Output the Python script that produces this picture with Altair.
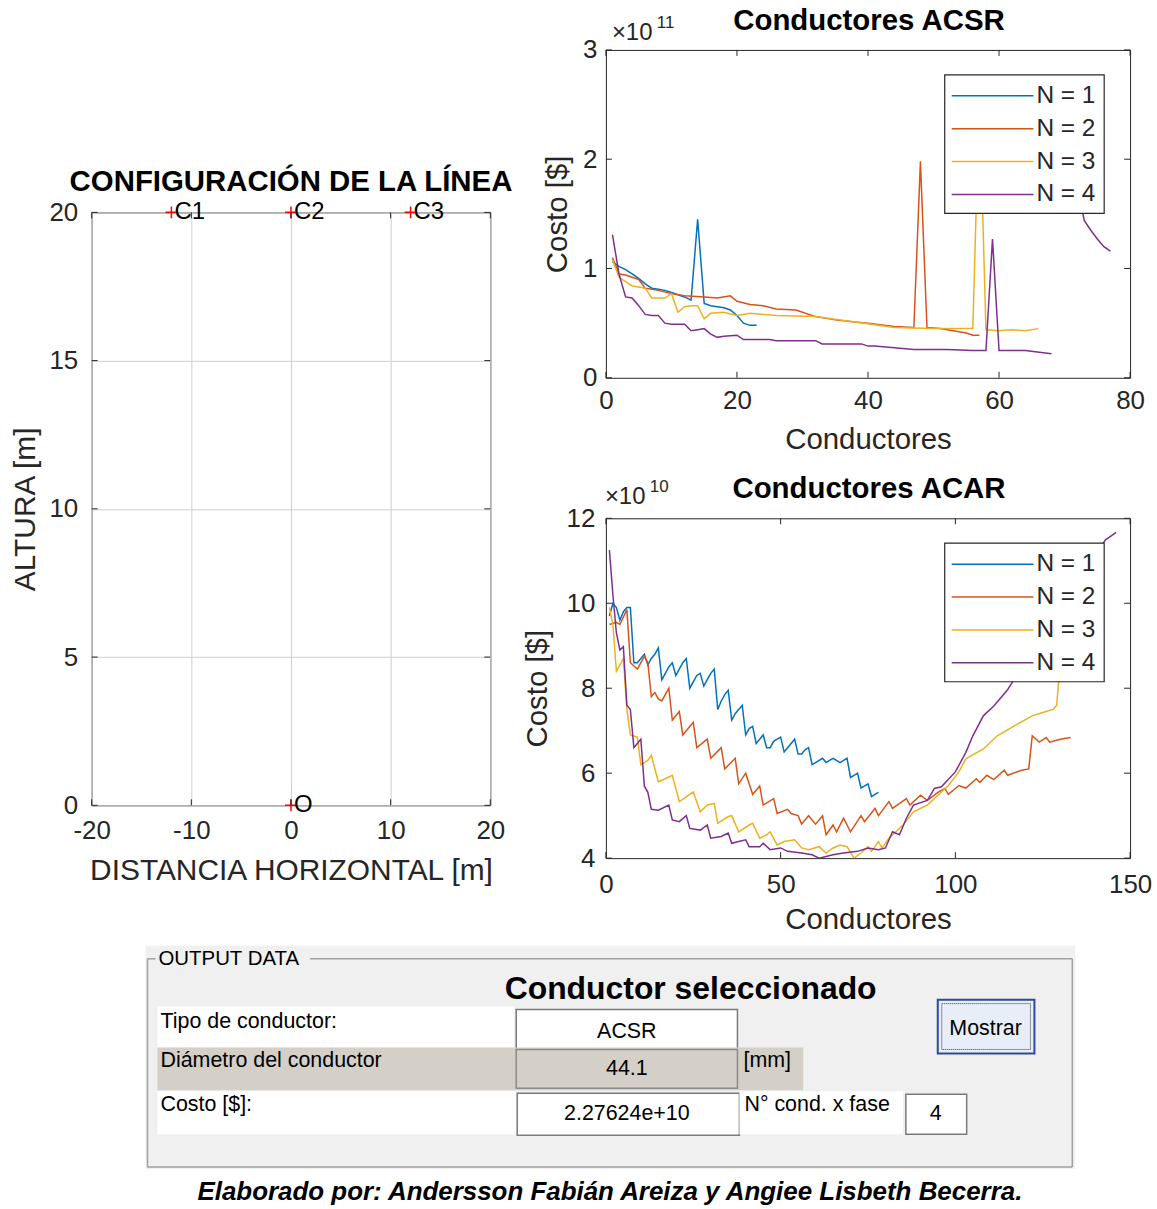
import altair as alt
import pandas as pd

FONT = "Liberation Sans"
AXC = "#262626"

# ---------------- data ----------------
series = ["N = 1", "N = 2", "N = 3", "N = 4"]
series_colors = ["#0072BD", "#D95319", "#EDB120", "#7E2F8E"]

# ACSR: cost in units of 1e11 $
acsr_n1_x = [1, 2, 3, 4, 5, 6, 7, 8, 9, 10, 11, 12, 13, 14, 15, 16, 17, 18, 19, 20, 21, 22, 23]
acsr_n1_y = [1.06, 1.02, 0.99, 0.95, 0.91, 0.86, 0.82, 0.81, 0.80, 0.78, 0.76, 0.74, 0.71, 1.45, 0.68,
             0.66, 0.65, 0.64, 0.62, 0.57, 0.50, 0.48, 0.48]
acsr_n2_x = [1, 2, 3, 4, 5, 6, 7, 8, 10, 12, 15, 17, 19, 20, 22, 24, 26, 29, 30, 32, 35, 38, 40, 44, 47,
             48, 49, 51, 53, 55, 56, 57]
acsr_n2_y = [1.10, 0.95, 0.94, 0.92, 0.90, 0.82, 0.81, 0.80, 0.77, 0.75, 0.74, 0.73, 0.75, 0.70, 0.67,
             0.66, 0.63, 0.62, 0.60, 0.56, 0.53, 0.51, 0.50, 0.47, 0.46, 1.98, 0.46, 0.45, 0.43, 0.41,
             0.39, 0.39]
acsr_n3_x = [1, 2, 3, 4, 5, 6, 7, 8, 9, 10, 11, 12, 13, 14, 15, 16, 18, 20, 22, 26, 32, 38, 44, 50, 56,
             57, 58, 60, 62, 64, 66]
acsr_n3_y = [1.08, 0.92, 0.88, 0.84, 0.83, 0.82, 0.73, 0.73, 0.73, 0.77, 0.60, 0.65, 0.66, 0.66, 0.54,
             0.59, 0.60, 0.57, 0.59, 0.57, 0.56, 0.51, 0.46, 0.45, 0.45, 2.60, 0.44, 0.43, 0.44, 0.43,
             0.45]
acsr_n4_x = [1, 2, 3, 4, 5, 6, 7, 8, 9, 10, 11, 12, 13, 14, 15, 16, 17, 18, 20, 21, 25, 26, 32, 33, 39,
             40, 41, 47, 52, 56, 58, 59, 60, 64, 68]
acsr_n4_y = [1.31, 0.95, 0.74, 0.73, 0.66, 0.58, 0.57, 0.57, 0.50, 0.49, 0.49, 0.49, 0.43, 0.44, 0.45,
             0.40, 0.37, 0.38, 0.39, 0.35, 0.35, 0.34, 0.34, 0.31, 0.31, 0.29, 0.29, 0.26, 0.26, 0.25,
             0.25, 1.27, 0.25, 0.25, 0.22]
acsr_n4b_x = [71, 72, 73, 74, 75, 76, 77]
acsr_n4b_y = [2.10, 1.75, 1.44, 1.35, 1.27, 1.20, 1.16]

# ACAR: cost in units of 1e10 $
acar_n1_x = list(range(1, 79))
acar_n1_y = [9.7, 10.0, 9.9, 9.6, 9.8, 9.9, 9.9, 8.6, 8.6, 8.7, 8.8, 8.55, 8.7, 8.8, 8.95, 8.2, 8.35,
             8.5, 8.6, 8.3, 8.45, 8.6, 8.7, 8.0, 8.15, 8.3, 8.35, 8.05, 8.2, 8.35, 8.45, 7.5, 7.7, 7.85,
             7.95, 7.25, 7.4, 7.5, 7.6, 6.9, 7.05, 7.1, 6.7, 6.8, 6.9, 6.6, 6.6, 6.75, 6.8, 6.85, 6.5,
             6.6, 6.7, 6.8, 6.45, 6.45, 6.55, 6.6, 6.2, 6.25, 6.3, 6.35, 6.25, 6.3, 6.35, 6.3, 6.25,
             6.3, 6.35, 5.9, 5.95, 6.0, 5.65, 5.7, 5.75, 5.45, 5.5, 5.55]
acar_n2_x = [1, 3, 4, 6, 7, 9, 11, 12, 13, 14, 15, 16, 18, 19, 21, 22, 25, 26, 29, 30, 33, 34, 37, 38,
             40, 42, 44, 45, 48, 49, 52, 53, 55, 56, 58, 60, 62, 63, 65, 66, 68, 70, 73, 74, 77, 78, 81,
             82, 86, 87, 90, 92, 95, 97, 98, 101, 103, 106, 107, 109, 111, 114, 115, 119, 121, 122, 124,
             126, 127, 130, 133]
acar_n2_y = [9.5, 9.55, 9.5, 9.85, 8.6, 8.45, 8.75, 8.6, 7.8, 7.9, 7.75, 7.7, 8.0, 7.25, 7.45, 6.9, 7.2,
             6.6, 6.8, 6.35, 6.6, 6.1, 6.35, 5.75, 6.0, 5.5, 5.7, 5.25, 5.4, 5.05, 5.15, 5.05, 5.0, 4.8,
             5.0, 4.8, 5.0, 4.55, 4.78, 4.62, 4.94, 4.62, 5.0, 4.86, 5.17, 5.0, 5.33, 5.17, 5.4, 5.25,
             5.48, 5.36, 5.55, 5.64, 5.5, 5.71, 5.65, 5.87, 5.78, 5.95, 5.85, 6.07, 5.95, 6.07, 6.1,
             6.88, 6.73, 6.84, 6.73, 6.8, 6.84]
acar_n3_x = [1, 2, 3, 4, 5, 6, 7, 9, 10, 12, 13, 15, 17, 19, 21, 23, 25, 27, 29, 31, 32, 35, 36, 38, 41,
             42, 44, 46, 47, 49, 51, 54, 56, 58, 61, 63, 65, 67, 69, 71, 73, 75, 76, 78, 79, 81, 85, 88,
             92, 95, 98, 101, 103, 108, 112, 117, 122, 125, 128, 129, 130]
acar_n3_y = [9.9, 9.5, 8.4, 8.55, 8.7, 7.5, 6.9, 6.85, 6.2, 6.3, 6.42, 5.8, 5.87, 5.95, 5.33, 5.44, 5.56,
             5.09, 5.25, 5.29, 4.82, 4.98, 5.0, 4.62, 4.78, 4.82, 4.47, 4.55, 4.62, 4.31, 4.39, 4.43,
             4.24, 4.2, 4.27, 4.12, 4.24, 4.31, 4.27, 4.0, 4.12, 4.27, 4.16, 4.39, 4.24, 4.47, 4.78,
             5.09, 5.25, 5.48, 5.71, 6.03, 6.34, 6.57, 6.88, 7.12, 7.35, 7.43, 7.5, 7.6, 8.6]
acar_n4_x = [1, 2, 3, 4, 5, 6, 7, 8, 9, 10, 11, 12, 13, 15, 18, 19, 21, 23, 24, 27, 29, 30, 33, 35, 36,
             38, 40, 41, 44, 45, 47, 50, 52, 56, 59, 61, 65, 68, 72, 75, 78, 80, 82, 84, 86, 88, 92, 94,
             96, 100, 103, 105, 108, 111, 115, 116, 143, 144, 146]
acar_n4_y = [11.25, 10.2, 9.3, 8.9, 8.98, 7.6, 7.5, 6.6, 6.7, 6.8, 5.7, 5.55, 5.15, 5.13, 5.25, 4.9,
             4.86, 5.0, 4.7, 4.66, 4.78, 4.47, 4.51, 4.59, 4.35, 4.39, 4.43, 4.27, 4.27, 4.35, 4.2, 4.24,
             4.16, 4.12, 4.08, 4.0, 4.08, 4.12, 4.16, 4.24, 4.2, 4.24, 4.62, 4.55, 4.94, 5.25, 5.36,
             5.64, 5.68, 6.03, 6.49, 6.88, 7.35, 7.58, 7.97, 8.1, 11.5, 11.55, 11.67]

# line configuration (conductor positions)
cond_names = ["C1", "C2", "C3", "O"]
cond_x = [-12, 0, 12, 0]
cond_y = [20, 20, 20, 0]

# tick values
acsr_xticks = [0, 20, 40, 60, 80]
acsr_yticks = [0, 1, 2, 3]
acar_xticks = [0, 50, 100, 150]
acar_yticks = [4, 6, 8, 10, 12]
cfg_xticks = [-20, -10, 0, 10, 20]
cfg_yticks = [0, 5, 10, 15, 20]

# output panel texts
out_title = "Conductor seleccionado"
out_labels = ["Tipo de conductor:", "Diámetro del conductor", "Costo [$]:"]
out_values = ["ACSR", "44.1", "2.27624e+10"]
out_unit = "[mm]"
out_ncond_label = "N° cond. x fase"
out_ncond = "4"
footer = "Elaborado por: Andersson Fabián Areiza y Angiee Lisbeth Becerra."


def build_df(parts):
    rows = []
    for name, seg, xs, ys in parts:
        assert len(xs) == len(ys), (name, seg)
        for a, b in zip(xs, ys):
            rows.append({"serie": name, "seg": f"{name}-{seg}", "x": a, "y": b})
    return pd.DataFrame(rows)


acsr_df = build_df([
    (series[0], "a", acsr_n1_x, acsr_n1_y),
    (series[1], "a", acsr_n2_x, acsr_n2_y),
    (series[2], "a", acsr_n3_x, acsr_n3_y),
    (series[3], "a", acsr_n4_x, acsr_n4_y),
    (series[3], "b", acsr_n4b_x, acsr_n4b_y),
])
acar_df = build_df([
    (series[0], "a", acar_n1_x, acar_n1_y),
    (series[1], "a", acar_n2_x, acar_n2_y),
    (series[2], "a", acar_n3_x, acar_n3_y),
    (series[3], "a", acar_n4_x, acar_n4_y),
])
cond_df = pd.DataFrame({"name": cond_names, "x": cond_x, "y": cond_y})

ONE = pd.DataFrame({"k": [0]})
cscale = alt.Scale(domain=series, range=series_colors)

# page layout (pixels)
DY = -2           # global vertical nudge
BX = 514          # split between left and right columns
BY_MID = 466      # split between ACSR and ACAR
BY_PANEL = 944 + DY   # top of the output-data panel
PAGE_W, PAGE_H = 1157, 1209
TICK_FS = 26


def axis(vals, title, lp, tp, tfs, grid=False, **extra):
    return alt.Axis(values=vals, title=title, labelFontSize=TICK_FS, labelPadding=lp, titleFontSize=tfs,
                    titlePadding=tp, labelFlush=False, labelOverlap=False, ticks=False, tickSize=0,
                    domain=False, grid=grid, gridColor="#cfcfcf", gridWidth=1, labelFont=FONT,
                    titleFont=FONT, labelColor=AXC, titleColor=AXC, titleFontWeight="normal", **extra)


def inward_ticks(xvals, yvals, xs, ys, xa, ya, w, h, L=6):
    dx = pd.DataFrame({"x": xvals})
    dy = pd.DataFrame({"y": yvals})
    kw = dict(color=AXC, strokeWidth=1)
    return [
        alt.Chart(dx).mark_rule(**kw).encode(x=alt.X("x:Q", scale=xs, axis=xa), y=alt.value(h), y2=alt.value(h - L)),
        alt.Chart(dx).mark_rule(**kw).encode(x=alt.X("x:Q", scale=xs, axis=xa), y=alt.value(0), y2=alt.value(L)),
        alt.Chart(dy).mark_rule(**kw).encode(y=alt.Y("y:Q", scale=ys, axis=ya), x=alt.value(0), x2=alt.value(L)),
        alt.Chart(dy).mark_rule(**kw).encode(y=alt.Y("y:Q", scale=ys, axis=ya), x=alt.value(w), x2=alt.value(w - L)),
    ]


def label(text, x, y, size, weight="normal", align="center", baseline="middle", color="black", style="normal"):
    return alt.Chart(ONE).mark_text(align=align, baseline=baseline, font=FONT, fontSize=size,
                                    fontWeight=weight, fontStyle=style, color=color).encode(
        x=alt.value(x), y=alt.value(y), text=alt.value(text))


def box(ox, oy, x0, y0, x1, y1, **kw):
    # rectangle given in page pixels, drawn in a panel whose plot origin is (ox, oy)
    return alt.Chart(ONE).mark_rect(**kw).encode(
        x=alt.value(x0 - ox), x2=alt.value(x1 - ox), y=alt.value(y0 - oy), y2=alt.value(y1 - oy))


def bbox(ox, oy, x0, y0, x1, y1):
    # invisible box fixing the area that a panel occupies in the page layout
    return box(ox, oy, x0, y0, x1, y1, fill="white", opacity=0)


def legend_layers():
    leg = pd.DataFrame({"serie": series, "i": list(range(len(series)))})
    frame = alt.Chart(ONE).mark_rect(fill="white", stroke=AXC, strokeWidth=1.2).encode(
        x=alt.value(340), x2=alt.value(500), y=alt.value(25), y2=alt.value(164))
    base = alt.Chart(leg).transform_calculate(py="46 + 33 * datum.i")
    lines = base.mark_rule(strokeWidth=1.5).encode(
        x=alt.value(347), x2=alt.value(429), y=alt.Y("py:Q", scale=None),
        color=alt.Color("serie:N", scale=cscale, legend=None))
    labels = base.mark_text(align="left", baseline="middle", font=FONT, fontSize=24.5, color=AXC).encode(
        x=alt.value(432), y=alt.Y("py:Q", scale=None), text="serie:N")
    return [frame, lines, labels]


FRAME = alt.ViewBackground(stroke=AXC, strokeWidth=1, fill="white")
NOFRAME = alt.ViewBackground(stroke="transparent", fill="transparent")
TITLE_FS = 29.5

# ---------------- ACSR ----------------
RX, RW = 605, 526
AY1, H1 = 49 + DY, 329
xs1 = alt.Scale(domain=[0, 80], nice=False, zero=False)
ys1 = alt.Scale(domain=[0, 3], nice=False, zero=False)
xa1 = axis(acsr_xticks, "Conductores", 10, 12, 29.5)
ya1 = axis(acsr_yticks, "Costo [$]", 9, 10, 29.5)
acsr_lines = alt.Chart(acsr_df).mark_line(strokeWidth=1.5, clip=True).encode(
    x=alt.X("x:Q", scale=xs1, axis=xa1),
    y=alt.Y("y:Q", scale=ys1, axis=ya1),
    color=alt.Color("serie:N", scale=cscale, legend=None),
    detail="seg:N", order="x:Q")
acsr = alt.layer(
    acsr_lines,
    bbox(RX, AY1, BX, 0, PAGE_W, BY_MID),
    *inward_ticks(acsr_xticks, acsr_yticks, xs1, ys1, xa1, ya1, RW, H1),
    label("×10", 6, -10, 24, align="left", baseline="alphabetic", color=AXC),
    label("11", 51, -22, 17, align="left", baseline="alphabetic", color=AXC),
    label("Conductores ACSR", 264, -29, TITLE_FS, weight="bold"),
    *legend_layers(),
).properties(width=RW, height=H1, view=FRAME)

# ---------------- ACAR ----------------
AY2, H2 = 517 + DY, 341
xs2 = alt.Scale(domain=[0, 150], nice=False, zero=False)
ys2 = alt.Scale(domain=[4, 12], nice=False, zero=False)
xa2 = axis(acar_xticks, "Conductores", 13, 9, 29.5)
ya2 = axis(acar_yticks, "Costo [$]", 11, 14, 29.5)
acar_lines = alt.Chart(acar_df).mark_line(strokeWidth=1.5, clip=True).encode(
    x=alt.X("x:Q", scale=xs2, axis=xa2),
    y=alt.Y("y:Q", scale=ys2, axis=ya2),
    color=alt.Color("serie:N", scale=cscale, legend=None),
    detail="seg:N", order="x:Q")
acar = alt.layer(
    acar_lines,
    bbox(RX, AY2, BX, BY_MID, PAGE_W, BY_PANEL),
    *inward_ticks(acar_xticks, acar_yticks, xs2, ys2, xa2, ya2, RW, H2),
    label("×10", -1, -14, 24, align="left", baseline="alphabetic", color=AXC),
    label("10", 44, -26, 17, align="left", baseline="alphabetic", color=AXC),
    label("Conductores ACAR", 264, -29, TITLE_FS, weight="bold"),
    *legend_layers(),
).properties(width=RW, height=H2, view=FRAME)

# ---------------- line configuration ----------------
LX, LY, LW, LH = 91, 210 + DY, 400, 595
SP_H = 81                 # spacer above the configuration plot
CFG_TOP = AY1 + SP_H      # page y where the configuration panel's box starts
xs3 = alt.Scale(domain=[-20, 20], nice=False, zero=False)
ys3 = alt.Scale(domain=[0, 20], nice=False, zero=False)
xa3 = axis(cfg_xticks, "DISTANCIA HORIZONTAL [m]", 12, 12, 30, grid=True, labelExpr="toString(datum.value)")
ya3 = axis(cfg_yticks, "ALTURA [m]", 14, 8, 30, grid=True)
cfg_pts = alt.Chart(cond_df).mark_point(shape="M-1,0H1M0,-1V1", size=144, color="#ff0000",
                                         strokeWidth=1.5, filled=False, opacity=1).encode(
    x=alt.X("x:Q", scale=xs3, axis=xa3), y=alt.Y("y:Q", scale=ys3, axis=ya3))
cfg_txt = alt.Chart(cond_df).mark_text(align="left", baseline="middle", dx=3, font=FONT, fontSize=24,
                                        color="black").encode(
    x=alt.X("x:Q", scale=xs3, axis=xa3), y=alt.Y("y:Q", scale=ys3, axis=ya3), text="name:N")
cfg = alt.layer(
    cfg_pts,
    bbox(LX, LY, 0, CFG_TOP, BX, BY_PANEL),
    cfg_txt,
    *inward_ticks(cfg_xticks, cfg_yticks, xs3, ys3, xa3, ya3, LW, LH),
    label("CONFIGURACIÓN DE LA LÍNEA", 200, -30, TITLE_FS, weight="bold"),
).properties(width=LW, height=LH, view=FRAME)

spacer = box(0, 0, 0, 0, 1, SP_H, fill="white", opacity=0).properties(width=1, height=SP_H, view=NOFRAME)

# ---------------- output panel (page coordinates) ----------------
PX0, PY0 = LX, BY_PANEL


def prect(x0, y0, x1, y1, **kw):
    return box(PX0, PY0, x0, y0 + DY, x1, y1 + DY, **kw)


def pline(x0, y0, x1, y1, **kw):
    return alt.Chart(ONE).mark_rule(**kw).encode(
        x=alt.value(x0 - PX0), x2=alt.value(x1 - PX0),
        y=alt.value(y0 + DY - PY0), y2=alt.value(y1 + DY - PY0))


def ptext(s, x, y, size=21.5, align="left", **kw):
    return label(s, x - PX0, y + DY - PY0, size, align=align, **kw)


EDGE = "#a0a0a0"
panel_layers = [
    bbox(PX0, PY0, 0, BY_PANEL, PAGE_W, PAGE_H),
    box(PX0, PY0, 145, BY_PANEL, 1078, 1168 + DY, fill="#f0f0f0"),
    pline(147, 957, 155, 957, color=EDGE, strokeWidth=1.5),
    pline(310, 957, 1075, 957, color=EDGE, strokeWidth=1.5),
    pline(147, 957, 147, 1166, color=EDGE, strokeWidth=1.5),
    pline(147, 1166, 1075, 1166, color=EDGE, strokeWidth=1.5),
    pline(1075, 957, 1075, 1166, color=EDGE, strokeWidth=1.5),
    ptext("OUTPUT DATA", 158, 957, 20.5),
    ptext(out_title, 692, 987, 32, align="center", weight="bold"),
    prect(157, 1005, 515, 1046, fill="white"),
    prect(517, 1008, 739, 1048, fill="white", stroke="#7a7a7a", strokeWidth=1.5),
    prect(157, 1046, 805, 1089, fill="#d4d0c8"),
    prect(517, 1048, 739, 1087, fill="#d4d0c8", stroke="#8a8a8a", strokeWidth=1.5),
    prect(157, 1090, 517, 1133, fill="white"),
    prect(518, 1092, 741, 1134, fill="white", stroke="#7a7a7a", strokeWidth=1.5),
    prect(741, 1090, 905, 1133, fill="white"),
    prect(908, 1093, 969, 1133, fill="white", stroke="#7a7a7a", strokeWidth=1.5),
    prect(940, 998, 1037, 1052, fill="#e8eef8", stroke="#2b4aa0", strokeWidth=2),
    prect(944, 1002, 1033, 1048, fill="transparent", stroke="#333333", strokeWidth=1, strokeDash=[1, 1]),
    ptext(out_labels[0], 160, 1020),
    ptext(out_values[0], 628, 1030, align="center"),
    ptext(out_labels[1], 160, 1060),
    ptext(out_values[1], 628, 1068, align="center"),
    ptext(out_unit, 745, 1060),
    ptext(out_labels[2], 160, 1104),
    ptext(out_values[2], 628, 1113, align="center"),
    ptext(out_ncond_label, 746, 1104),
    ptext(out_ncond, 938, 1113, align="center"),
    ptext("Mostrar", 988, 1027, align="center"),
    ptext(footer, 611, 1191, 26, align="center", weight="bold", style="italic"),
]
panel = alt.layer(*panel_layers).properties(width=PAGE_W - PX0, height=PAGE_H - PY0, view=NOFRAME)

left_col = alt.vconcat(spacer, cfg, spacing=0, bounds="full")
right_col = alt.vconcat(acsr, acar, spacing=0, bounds="full")
top = alt.hconcat(left_col, right_col, spacing=0, bounds="full")
chart = alt.vconcat(top, panel, spacing=0, bounds="full").properties(
    padding=0, background="white"
).configure_view(stroke=AXC)

chart.save("out.html", embed_options={"renderer": "svg", "actions": False})
